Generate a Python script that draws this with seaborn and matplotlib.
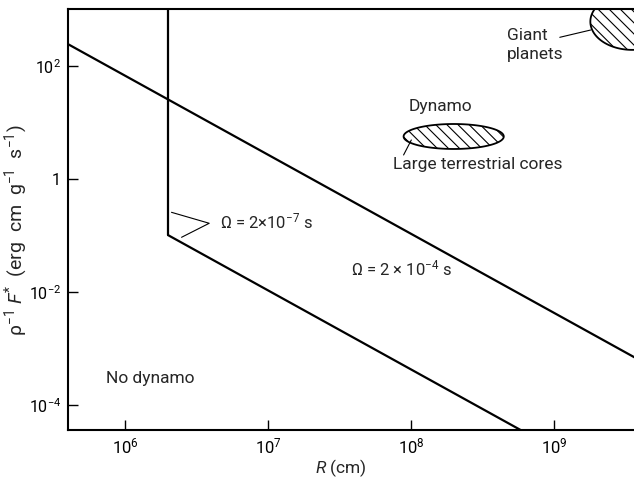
import numpy as np
import pandas as pd
import matplotlib
matplotlib.use("Agg")
import matplotlib.pyplot as plt
import seaborn as sns
from matplotlib.ticker import FixedLocator, FixedFormatter, NullLocator

# ---- data ----
line_fast_R = [4.0e5, 4.0e9]          # Omega = 2e-4 s line
line_fast_F = [240.0, 6.0e-4]
vert_R = [2.0e6, 2.0e6]               # vertical boundary
vert_F = [0.1, 1.0e3]
line_slow_R = [2.0e6, 2.0e9]          # Omega = 2e-7 s line
line_slow_F = [0.1, 6.3e-6]

x_ticks = [1e6, 1e7, 1e8, 1e9]
x_ticklabels = [r"$10^6$", r"$10^7$", r"$10^8$", r"$10^9$"]
y_ticks = [1e-4, 1e-2, 1, 1e2]
y_ticklabels = [r"$10^{-4}$", r"$10^{-2}$", "1", r"$10^2$"]

# regions (log10 centre, log10 half-widths)
giant_center = (9.544, 2.78)
giant_half = (0.293, 0.50)
cores_center = (8.296, 0.747)
cores_half = (0.35, 0.221)

sns.set_theme(style="ticks")
plt.rcParams["font.family"] = ["Roboto", "DejaVu Sans"]
plt.rcParams["mathtext.fontset"] = "custom"
plt.rcParams["mathtext.rm"] = "Roboto"
plt.rcParams["mathtext.it"] = "Roboto:italic"
plt.rcParams["mathtext.bf"] = "Roboto:bold"
plt.rcParams["mathtext.sf"] = "Roboto"
plt.rcParams["hatch.linewidth"] = 0.8

W, H = 634, 478
fig = plt.figure(figsize=(W / 100, H / 100), dpi=100)
ax = fig.add_axes([68 / W, (H - 430) / H, (634 - 68) / W, 421 / H])

frames = []
for name, R, F in [("fast", line_fast_R, line_fast_F),
                   ("vert", vert_R, vert_F),
                   ("slow", line_slow_R, line_slow_F)]:
    frames.append(pd.DataFrame({"R": R, "F": F, "line": name}))
df = pd.concat(frames, ignore_index=True)

sns.lineplot(data=df, x="R", y="F", units="line", estimator=None, sort=False,
             color="black", lw=1.6, ax=ax, legend=False)

ax.set_xscale("log")
ax.set_yscale("log")
ax.set_xlim(10 ** 5.601, 10 ** 9.556)
ax.set_ylim(10 ** -4.448, 10 ** 3.0035)

ax.xaxis.set_major_locator(FixedLocator(x_ticks))
ax.xaxis.set_major_formatter(FixedFormatter(x_ticklabels))
ax.xaxis.set_minor_locator(NullLocator())
ax.yaxis.set_major_locator(FixedLocator(y_ticks))
ax.yaxis.set_major_formatter(FixedFormatter(y_ticklabels))
ax.yaxis.set_minor_locator(NullLocator())
ax.tick_params(direction="in", length=7, width=1.0, labelsize=12, colors="black", pad=5)
ax.tick_params(axis="y", labelsize=11.5)

for s in ["left", "bottom", "top"]:
    ax.spines[s].set_linewidth(1.5)
    ax.spines[s].set_color("black")
ax.spines["right"].set_visible(False)
ax.set_xlabel("")
ax.set_ylabel("")


def ellipse(center, half):
    t = np.linspace(0, 2 * np.pi, 300)
    return 10 ** (center[0] + half[0] * np.cos(t)), 10 ** (center[1] + half[1] * np.sin(t))


gx, gy = ellipse(giant_center, giant_half)
ax.fill(gx, gy, facecolor="white", edgecolor="black", hatch="\\\\\\", lw=1.3)
cx, cy = ellipse(cores_center, cores_half)
ax.fill(cx, cy, facecolor="white", edgecolor="black", hatch="\\\\\\", lw=1.3)

# leader lines
ax.plot([1.09e9, 1.79e9], [318, 428], color="black", lw=0.8)
ax.plot([1.0e8, 8.83e7], [4.84, 2.63], color="black", lw=0.8)
ax.plot([2.11e6, 3.87e6, 2.48e6], [0.254, 0.1625, 0.0918], color="black", lw=0.8)

fs = 12.5
ax.text(4.64e8, 336, "Giant", fontsize=fs, ha="left", va="center")
ax.text(4.64e8, 161, "planets", fontsize=fs, ha="left", va="center")
ax.text(9.5e7, 19.2, "Dynamo", fontsize=fs, ha="left", va="center")
ax.text(7.4e7, 1.82, "Large terrestrial cores", fontsize=fs, ha="left", va="center")
ax.text(7.4e5, 2.93e-4, "No dynamo", fontsize=fs, ha="left", va="center")
ax.text(4.59e6, 0.173, "Ω = 2×10$^{-7}$ s", fontsize=12, ha="left", va="center")
ax.text(1.92e8, 0.0255, "Ω = 2 × 10$^{-4}$ s", fontsize=12, ha="right", va="center")

fig.text(16 / W, 1 - 230 / H, r"ρ$^{-1}$ $F^{*}$  (erg  cm  g$^{-1}$  s$^{-1}$)",
         rotation=90, ha="center", va="center", fontsize=14)
fig.text(341 / W, 1 - 468 / H, r"$R$ (cm)", ha="center", va="center", fontsize=12.5)

fig.savefig("out.png", dpi=100)
